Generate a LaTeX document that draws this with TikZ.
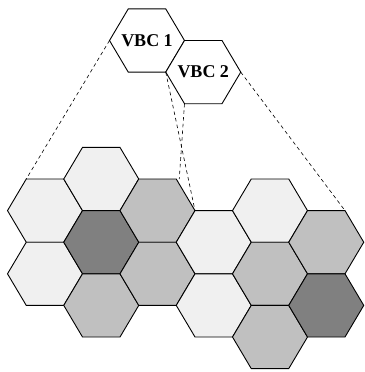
\documentclass[tikz,border=0pt]{standalone}
\usepackage{fontspec}
\setmainfont{Liberation Serif}
\definecolor{lightcell}{HTML}{F0F0F0}
\definecolor{midcell}{HTML}{C0C0C0}
\definecolor{darkcell}{HTML}{808080}
\tikzset{
  cell/.style={draw=black, line width=0.9pt, line join=miter},
  vbctext/.style={font=\bfseries\fontsize{18}{20}\selectfont, inner sep=0pt},
  link/.style={draw=black, line width=0.6pt, dash pattern=on 3.6pt off 3.1pt},
}
% name, x, y, fill  (corners: 0 right, 1 top-right, 2 top-left, 3 left, 4 bottom-left, 5 bottom-right)
\newcommand\hexcell[4]{%
  \filldraw[cell,fill=#4] (#2,#3) ++(37.5,0) coordinate (#1-0)
    -- ++(-18.75,-31.6) coordinate (#1-1)
    -- ++(-37.5,0) coordinate (#1-2)
    -- ++(-18.75,31.6) coordinate (#1-3)
    -- ++(18.75,31.6) coordinate (#1-4)
    -- ++(37.5,0) coordinate (#1-5)
    -- cycle;
  \coordinate (#1) at (#2,#3);
}
\begin{document}
\begin{tikzpicture}[x=1pt,y=-1pt]
\useasboundingbox (0,0) rectangle (364,372);
% left cluster
\hexcell{c1a}{45}{210.6}{lightcell}
\hexcell{c1b}{45}{273.8}{lightcell}
\hexcell{c2a}{101.25}{179}{lightcell}
\hexcell{c2b}{101.25}{242.2}{darkcell}
\hexcell{c2c}{101.25}{305.4}{midcell}
\hexcell{c3a}{157.5}{210.6}{midcell}
\hexcell{c3b}{157.5}{273.8}{midcell}
% right cluster
\hexcell{c4a}{213.75}{242.2}{lightcell}
\hexcell{c4b}{213.75}{305.4}{lightcell}
\hexcell{c5a}{270}{210.6}{lightcell}
\hexcell{c5b}{270}{273.8}{midcell}
\hexcell{c5c}{270}{337}{midcell}
\hexcell{c6a}{326.25}{242.2}{midcell}
\hexcell{c6b}{326.25}{305.4}{darkcell}
% VBC cells
\hexcell{v1}{147}{40.5}{white}
\hexcell{v2}{203.25}{72.1}{white}
\node[vbctext] (t1) at (v1) {VBC 1};
\node[vbctext] (t2) at (v2) {VBC 2};
% dashed links
\draw[link] (v1-3) -- (c1a-2);
\draw[link] (v1-5) -- (c3a-0);
\draw[link] (v2-4) -- ([xshift=3pt]c3a-1);
\draw[link] (v2-0) -- (c6a-1);
\end{tikzpicture}
\end{document}
